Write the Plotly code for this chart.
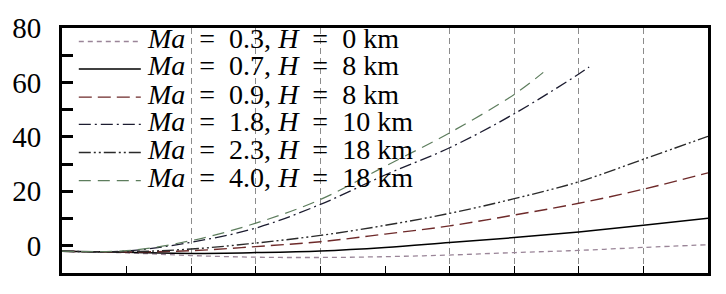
import plotly.graph_objects as go

# ---- data ----
X_FULL = [0, 1, 2, 3, 4, 5, 6, 7, 8, 9, 10]
Y_MA03 = [-2.0, -2.6, -3.6, -4.2, -4.3, -4.0, -3.4, -2.5, -1.7, -0.6, 0.4]
Y_MA07 = [-2.0, -2.4, -2.8, -2.5, -1.9, -0.6, 1.2, 3.0, 5.1, 7.5, 10.1]
Y_MA09 = [-2.0, -2.3, -1.8, -0.3, 1.5, 4.3, 7.3, 11.3, 15.6, 20.8, 26.8]
Y_MA23 = [-2.0, -2.2, -1.2, 1.0, 3.8, 7.5, 11.9, 17.3, 23.5, 31.8, 40.2]
X_MA18 = [0, 1, 2, 3, 4, 5, 6, 7, 8, 8.16]
Y_MA18 = [-2.0, -1.9, 1.3, 6.5, 15.2, 26.0, 36.0, 48.5, 63.1, 65.7]
X_MA40 = [0, 1, 2, 3, 4, 5, 6, 7, 7.45]
Y_MA40 = [-2.0, -1.8, 1.9, 8.3, 17.0, 29.2, 41.5, 55.6, 63.7]

MA = ["0.3", "0.7", "0.9", "1.8", "2.3", "4.0"]
H = ["0", "8", "8", "10", "18", "18"]
LABELS = [f"<i>Ma</i>\u00a0 = \u00a0{m}, <i>H</i>\u00a0 = \u00a0{h} km" for m, h in zip(MA, H)]
Y_TICKS = [0, 20, 40, 60, 80]
GRID_X = [2, 3, 4, 6, 7, 8, 9]

SERIES = [
    (X_FULL, Y_MA03, "#9a8598", "5px,4px", 1.3),
    (X_FULL, Y_MA07, "#000000", "solid", 1.5),
    (X_FULL, Y_MA09, "#6e2a2a", "13px,6px", 1.4),
    (X_MA18, Y_MA18, "#1c1c30", "12px,4px,2px,4px", 1.3),
    (X_FULL, Y_MA23, "#2a2a2a", "12px,3px,2px,3px,2px,3px", 1.4),
    (X_MA40, Y_MA40, "#5d7d5d", "12px,7px", 1.2),
]

FONT = "Liberation Serif"

fig = go.Figure()
for (xs, ys, col, dash, w), lab in zip(SERIES, LABELS):
    fig.add_trace(go.Scatter(x=xs, y=ys, mode="lines", name=lab,
                             line=dict(color=col, dash=dash, width=w, shape="spline"),
                             showlegend=False))

# manual legend
row_y = [0.945, 0.833, 0.718, 0.607, 0.492, 0.377]
shapes = [dict(type="rect", xref="paper", yref="paper", x0=0.005, x1=0.55, y0=0.29, y1=0.995,
               fillcolor="white", line=dict(width=0), layer="between")]
annotations = []
for (xs, ys, col, dash, w), lab, yy in zip(SERIES, LABELS, row_y):
    shapes.append(dict(type="line", xref="paper", yref="paper", x0=0.026, x1=0.122, y0=yy, y1=yy,
                       line=dict(color=col, dash=dash, width=w), layer="above"))
    annotations.append(dict(xref="paper", yref="paper", x=0.128, y=yy + 0.012, xanchor="left", yanchor="middle",
                            text=lab, showarrow=False, font=dict(family=FONT, size=28, color="black")))

fig.update_layout(
    width=726, height=294,
    margin=dict(l=62, r=18, t=21, b=21),
    paper_bgcolor="white", plot_bgcolor="white",
    shapes=shapes, annotations=annotations,
    font=dict(family=FONT, size=28, color="black"),
    xaxis=dict(range=[0, 10], tickvals=GRID_X, showticklabels=False,
               showgrid=True, gridcolor="#8c8c8c", gridwidth=1, griddash="6px,4px",
               ticks="inside", ticklen=7, tickwidth=1, tickcolor="black",
               minor=dict(dtick=1, tick0=0, ticks="inside", ticklen=7, tickwidth=1, tickcolor="black", showgrid=False),
               showline=True, mirror=True, linecolor="black", linewidth=3, zeroline=False),
    yaxis=dict(range=[-10, 80], tickvals=Y_TICKS, showgrid=False, zeroline=False,
               ticks="inside", ticklen=11, tickwidth=2.5, tickcolor="black",
               minor=dict(dtick=10, tick0=0, ticks="inside", ticklen=11, tickwidth=2.5, tickcolor="black"),
               showline=True, mirror=True, linecolor="black", linewidth=3,
               ticklabelstandoff=12, tickfont=dict(family=FONT, size=29)),
)

fig.write_html("out.html")
